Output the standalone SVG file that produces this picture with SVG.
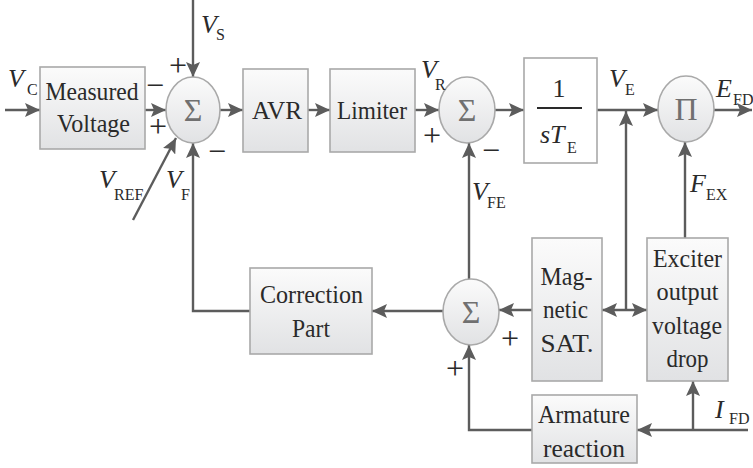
<svg xmlns="http://www.w3.org/2000/svg" width="753" height="468" viewBox="0 0 753 468">
<defs>
<linearGradient id="gb" x1="0" y1="0" x2="0" y2="1">
<stop offset="0" stop-color="#fbfbfb"/>
<stop offset="1" stop-color="#e1e2e4"/>
</linearGradient>
<marker id="ah" markerUnits="userSpaceOnUse" markerWidth="15" markerHeight="14" refX="15" refY="7" orient="auto-start-reverse" viewBox="0 0 15 14">
<path d="M0,0 L15,7 L0,14 L3,7 z" fill="#5c5c5c"/>
</marker>
<style>
.box{fill:url(#gb);stroke:#a9a9a9;stroke-width:1.6}
.plain{fill:#ffffff;stroke:#a9a9a9;stroke-width:1.6}
.sum{fill:url(#gb);stroke:#a9a9a9;stroke-width:1.6}
text{font-family:'Liberation Serif','Tinos','DejaVu Serif','Noto Serif',serif}
.t{font-size:26px;fill:#2a2a2a;text-anchor:middle}
.sym{font-size:32px;fill:#707070;text-anchor:middle}
.v{font-size:26px;font-style:italic;fill:#2a2a2a}
.s{font-size:16px;fill:#2a2a2a}
.sg{font-size:32px;fill:#2a2a2a;text-anchor:middle}
.c{fill:none;stroke:#5c5c5c;stroke-width:2.4}
.a{marker-end:url(#ah)}
</style>
</defs>
<rect width="753" height="468" fill="#ffffff"/>

<g id="connectors">
<path class="c a" d="M5,110 H40"/>
<path class="c a" d="M145,110 H166"/>
<path class="c a" d="M193,0 V77"/>
<path class="c a" d="M133,220 L176,138"/>
<path class="c a" d="M250,311 H193 V143"/>
<path class="c a" d="M220,110 H243"/>
<path class="c a" d="M308,110 H330"/>
<path class="c a" d="M415,110 H439"/>
<path class="c a" d="M495,110 H524"/>
<path class="c a" d="M597,110 H658"/>
<path class="c a" d="M714,110 H752"/>
<path class="c a" d="M469,279 V143"/>
<path class="c a" d="M443,311 H372"/>
<path class="c a" d="M532,310 H499"/>
<path class="c a" d="M602,310 H647" style="marker-start:url(#ah)"/>
<path class="c a" d="M626,310 V111"/>
<path class="c a" d="M685,238 V142"/>
<path class="c a" d="M748,430 H637"/>
<path class="c a" d="M693,430 V381"/>
<path class="c a" d="M532,430 H469 V345"/>
</g>

<g id="measured">
<rect class="box" x="40" y="67" width="105" height="82"/>
<text class="t" x="92" y="100" textLength="93" lengthAdjust="spacingAndGlyphs">Measured</text>
<text class="t" x="93.5" y="132" textLength="73" lengthAdjust="spacingAndGlyphs">Voltage</text>
</g>

<g id="sum1">
<ellipse class="sum" cx="193" cy="110" rx="27" ry="33"/>
<text class="sym" x="193" y="121">Σ</text>
</g>

<g id="avr">
<rect class="box" x="243" y="69" width="65" height="83"/>
<text class="t" x="277" y="119" textLength="50" lengthAdjust="spacingAndGlyphs">AVR</text>
</g>

<g id="limiter">
<rect class="box" x="330" y="69" width="85" height="83"/>
<text class="t" x="372" y="119" textLength="70" lengthAdjust="spacingAndGlyphs">Limiter</text>
</g>

<g id="sum2">
<ellipse class="sum" cx="467" cy="110" rx="28" ry="33"/>
<text class="sym" x="467" y="121">Σ</text>
</g>

<g id="integrator">
<rect class="plain" x="524" y="58" width="73" height="105"/>
<text class="t" x="559" y="97">1</text>
<line x1="537" y1="108" x2="582" y2="108" stroke="#2a2a2a" stroke-width="1.8"/>
<text class="v" x="540" y="143">sT</text>
<text class="s" x="567" y="153">E</text>
</g>

<g id="product">
<ellipse class="sum" cx="686" cy="109" rx="28" ry="33"/>
<text class="sym" x="686" y="120">Π</text>
</g>

<g id="correction">
<rect class="box" x="250" y="268" width="122" height="86"/>
<text class="t" x="311.5" y="303" textLength="103" lengthAdjust="spacingAndGlyphs">Correction</text>
<text class="t" x="311" y="337" textLength="38" lengthAdjust="spacingAndGlyphs">Part</text>
</g>

<g id="sum3">
<ellipse class="sum" cx="471" cy="312" rx="28" ry="33"/>
<text class="sym" x="471" y="323">Σ</text>
</g>

<g id="magnetic">
<rect class="box" x="532" y="238" width="70" height="143"/>
<text class="t" x="566.5" y="285" textLength="52" lengthAdjust="spacingAndGlyphs">Mag-</text>
<text class="t" x="565.5" y="318" textLength="45" lengthAdjust="spacingAndGlyphs">netic</text>
<text class="t" x="567" y="352" textLength="53" lengthAdjust="spacingAndGlyphs">SAT.</text>
</g>

<g id="exciter">
<rect class="box" x="647" y="238" width="81" height="143"/>
<text class="t" x="687.5" y="267" textLength="69" lengthAdjust="spacingAndGlyphs">Exciter</text>
<text class="t" x="687.5" y="300" textLength="62" lengthAdjust="spacingAndGlyphs">output</text>
<text class="t" x="687" y="334" textLength="70" lengthAdjust="spacingAndGlyphs">voltage</text>
<text class="t" x="687.5" y="367" textLength="42" lengthAdjust="spacingAndGlyphs">drop</text>
</g>

<g id="armature">
<rect class="box" x="532" y="395" width="105" height="68"/>
<text class="t" x="584" y="423" textLength="92" lengthAdjust="spacingAndGlyphs">Armature</text>
<text class="t" x="584" y="457" textLength="82" lengthAdjust="spacingAndGlyphs">reaction</text>
</g>

<g id="labels">
<text class="v" x="8" y="87">V</text><text class="s" x="27" y="95">C</text>
<text class="v" x="201" y="33">V</text><text class="s" x="216" y="40">S</text>
<text class="v" x="99" y="188">V</text><text class="s" x="114" y="200">REF</text>
<text class="v" x="166" y="188">V</text><text class="s" x="181" y="200">F</text>
<text class="v" x="421" y="78">V</text><text class="s" x="435" y="90">R</text>
<text class="v" x="472" y="200">V</text><text class="s" x="487" y="208">FE</text>
<text class="v" x="609" y="87">V</text><text class="s" x="625" y="95">E</text>
<text class="v" x="716" y="97">E</text><text class="s" x="733" y="105">FD</text>
<text class="v" x="690" y="192">F</text><text class="s" x="706" y="200">EX</text>
<text class="v" x="715" y="418">I</text><text class="s" x="729" y="424">FD</text>
</g>

<g id="signs">
<text class="sg" x="155" y="96">−</text>
<text class="sg" x="158" y="137">+</text>
<text class="sg" x="178" y="76">+</text>
<text class="sg" x="217" y="162">−</text>
<text class="sg" x="432" y="146">+</text>
<text class="sg" x="491" y="161">−</text>
<text class="sg" x="455" y="379">+</text>
<text class="sg" x="510" y="349">+</text>
</g>
</svg>
